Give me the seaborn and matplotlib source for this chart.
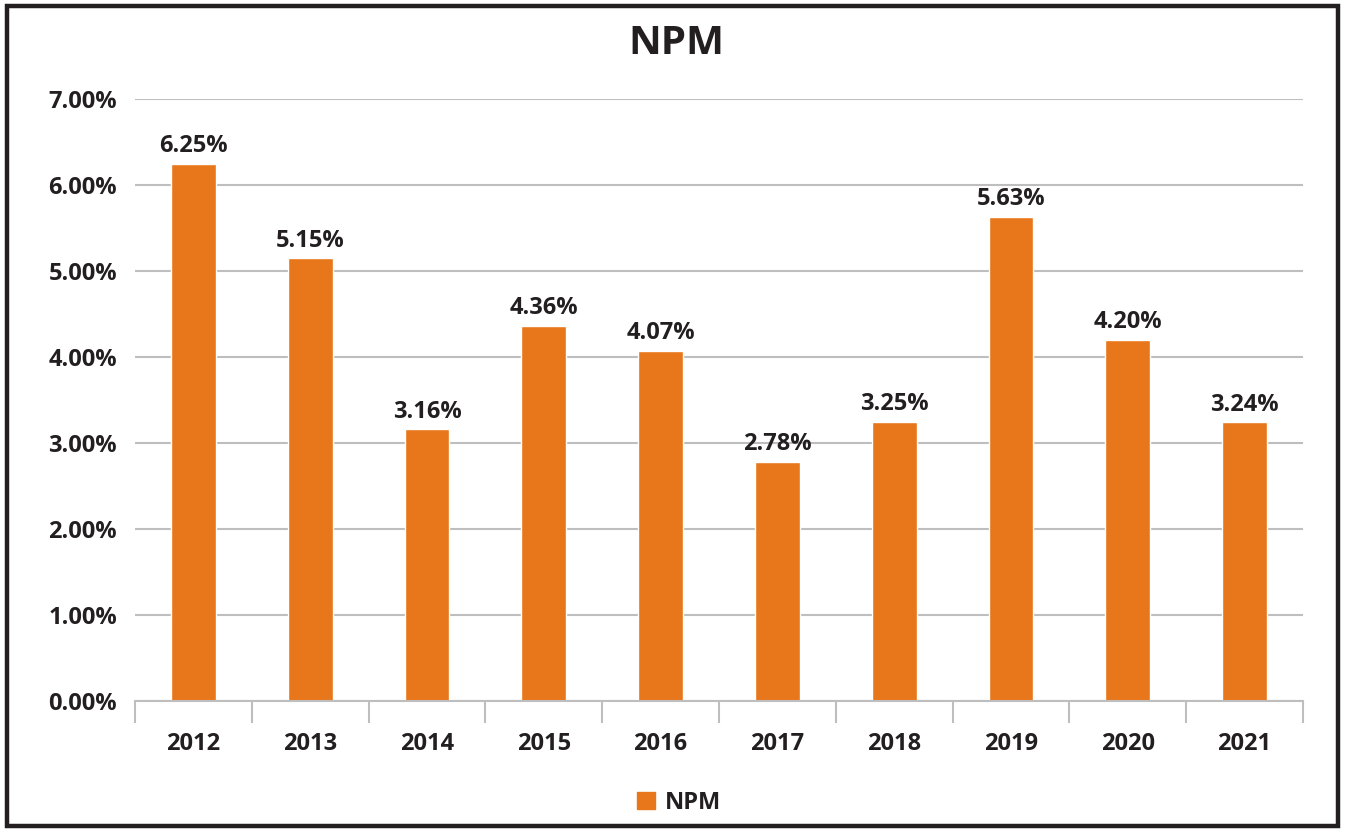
import matplotlib
matplotlib.use("Agg")
import matplotlib.pyplot as plt
import matplotlib.patches as mpatches
import seaborn as sns
import pandas as pd
import numpy as np

# chart data
years = ["2012", "2013", "2014", "2015", "2016", "2017", "2018", "2019", "2020", "2021"]
npm = [6.25, 5.15, 3.16, 4.36, 4.07, 2.78, 3.25, 5.63, 4.20, 3.24]
yticks = [0, 1, 2, 3, 4, 5, 6, 7]

orange = "#E8761A"
dark = "#231F20"
grid = "#BEBEBE"

sns.set_theme(style="white")
plt.rcParams["font.family"] = ["Open Sans", "DejaVu Sans"]
plt.rcParams["font.weight"] = "bold"

df = pd.DataFrame({"year": years, "NPM": npm})

fig = plt.figure(figsize=(13.45, 8.32), dpi=100)
ax = fig.add_axes([135 / 1345, 1 - 701 / 832, (1303 - 135) / 1345, (701 - 99) / 832])

sns.barplot(data=df, x="year", y="NPM", color=orange, width=0.385,
            saturation=1, ax=ax)

ax.set_ylim(0, 7)
ax.set_xlim(-0.5, len(years) - 0.5)
ax.set_yticks(yticks)
ax.set_yticklabels([f"{v:.2f}%" for v in yticks])
ax.yaxis.grid(True, color=grid, linewidth=1.5)
ax.set_axisbelow(True)
for s in ["top", "right", "left"]:
    ax.spines[s].set_visible(False)
ax.spines["bottom"].set_color(grid)
ax.spines["bottom"].set_linewidth(1.5)

# ticks between categories
ax.set_xticks(np.arange(-0.5, len(years)), minor=True)
ax.tick_params(axis="x", which="minor", length=16, width=1.5, color=grid, bottom=True)
ax.tick_params(axis="x", which="major", length=0, pad=22, labelsize=17, labelcolor=dark)
ax.tick_params(axis="y", length=0, pad=13, labelsize=17, labelcolor=dark)
for lab in ax.get_xticklabels() + ax.get_yticklabels():
    lab.set_fontweight("bold")
ax.set_xlabel("")
ax.set_ylabel("")

ax.bar_label(ax.containers[0], labels=[f"{v:.2f}%" for v in npm], padding=4,
             fontsize=17, fontweight="bold", color=dark)

fig.text(0.503, 0.948, "NPM", ha="center", va="center", fontsize=29,
         fontweight="bold", color=dark)

handle = mpatches.Patch(color=orange, label="NPM")
leg = fig.legend(handles=[handle], loc="center", bbox_to_anchor=(0.505, 0.035),
                 frameon=False, fontsize=17, handlelength=0.75, handleheight=0.75,
                 handletextpad=0.45)
for t in leg.get_texts():
    t.set_fontweight("bold")
    t.set_color(dark)

# outer frame
frame = mpatches.Rectangle((7 / 1345, 6 / 832), 1 - 14 / 1345, 1 - 12 / 832,
                           transform=fig.transFigure, fill=False,
                           edgecolor=dark, linewidth=3.2)
fig.patches.append(frame)

fig.savefig("out.png", dpi=100, facecolor="white")
